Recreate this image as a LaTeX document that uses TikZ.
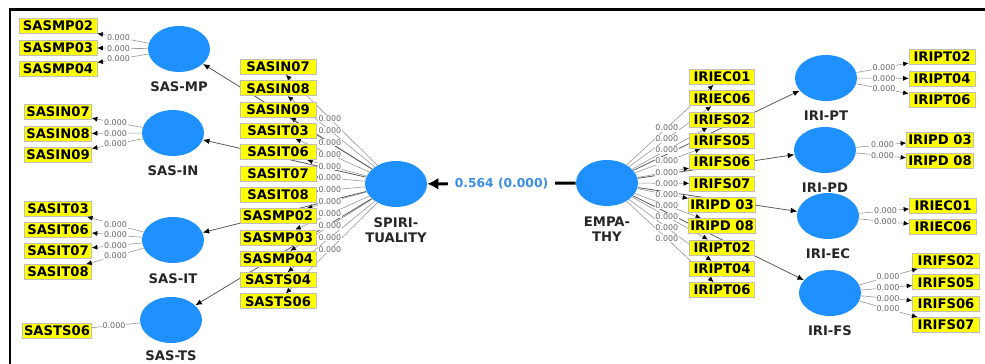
\documentclass[tikz,border=0pt]{standalone}
\usepackage{fontspec}
\setmainfont{DejaVu Sans}
\usetikzlibrary{arrows.meta, calc, positioning, backgrounds}
\usetikzlibrary{shapes.geometric}
\definecolor{lvblue}{HTML}{1E90FF}
\definecolor{coefblue}{HTML}{3A8EE8}
\definecolor{boxyellow}{HTML}{FFFF00}

\begin{document}
\begin{tikzpicture}[% styles used in image code
        x = 0.02cm, y = -0.02cm,
lv/.style = {ellipse, fill=lvblue, draw=none,
             minimum width=1.24cm, minimum height=0.92cm, inner sep=0pt},
ind/.style = {draw=black!25, fill=boxyellow, thin,
              font=\fontsize{7.5}{8}\selectfont\bfseries,
              minimum height=0.3cm, inner xsep=1pt, inner ysep=0pt},
lvname/.style = {font=\fontsize{7.5}{8.5}\selectfont\bfseries, text=black!85,
                 inner sep=0pt, align=center},
load/.style = {font=\fontsize{4.5}{5}\selectfont, text=black!60,
               fill=white, inner sep=0.4pt},
coef/.style = {font=\fontsize{7}{8}\selectfont\bfseries, text=coefblue,
               fill=white, inner xsep=4pt},
ml/.style = {draw=black!40, line width=0.35pt,
             -{Latex[length=1.1mm, width=1mm, color=black]}}, % outer loadings
sp/.style = {draw=black!65, line width=0.45pt,
             -{Latex[length=1.3mm, width=1.1mm, color=black]}} % paths
                        ]
	\useasboundingbox (0,0) rectangle (985,364);
	% frame of the screenshot
	\coordinate (fb) at (10,364);
	\coordinate (fc) at (10,10);
	\coordinate (fr) at (985,10);
	\draw[line width=0.06cm] (fb) -- (fc) -- (fr);

	% latent variables
	\node[lv] (spir) at (396,184) {};
	\node[lv] (emp)  at (607,183) {};
	\node[lv] (mp) at (179,49)  {};
	\node[lv] (in) at (173,133) {};
	\node[lv] (it) at (173,240) {};
	\node[lv] (ts) at (171,320) {};
	\node[lv] (pt) at (826,78)  {};
	\node[lv] (pd) at (825,150) {};
	\node[lv] (ec) at (828,216) {};
	\node[lv] (fs) at (830,293) {};

	\node[lvname, below=0.2cm of spir] {SPIRI-\\TUALITY};
	\node[lvname, below=0.2cm of emp]  {EMPA-\\THY};
	\node[lvname, below=0.18cm of mp] {SAS-MP};
	\node[lvname, below=0.18cm of in] {SAS-IN};
	\node[lvname, below=0.2cm of it]  {SAS-IT};
	\node[lvname, below=0.15cm of ts] {SAS-TS};
	\node[lvname, below=0.18cm of pt] {IRI-PT};
	\node[lvname, below=0.18cm of pd] {IRI-PD};
	\node[lvname, below=0.18cm of ec] {IRI-EC};
	\node[lvname, below=0.18cm of fs] {IRI-FS};

	% indicators of the second order constructs
	\foreach \t [count=\i] in {SASIN07,SASIN08,SASIN09,SASIT03,SASIT06,SASIT07,
	                           SASIT08,SASMP02,SASMP03,SASMP04,SASTS04,SASTS06}
	    \node[ind, minimum width=1.52cm] (s\i) at (278,{67+21.3*(\i-1)}) {\t};
	\foreach \t [count=\i] in {IRIEC01,IRIEC06,IRIFS02,IRIFS05,IRIFS06,IRIFS07,
	                           IRIPD 03,IRIPD 08,IRIPT02,IRIPT04,IRIPT06}
	    \node[ind, minimum width=1.3cm] (e\i) at (722,{77+21.3*(\i-1)}) {\t};

	% indicators of the first order constructs
	\foreach \t [count=\i] in {SASMP02,SASMP03,SASMP04}
	    \node[ind, minimum width=1.56cm] (mp\i) at (58,{26+21.5*(\i-1)}) {\t};
	\foreach \t [count=\i] in {SASIN07,SASIN08,SASIN09}
	    \node[ind, minimum width=1.34cm] (in\i) at (58,{112+21.5*(\i-1)}) {\t};
	\foreach \t [count=\i] in {SASIT03,SASIT06,SASIT07,SASIT08}
	    \node[ind, minimum width=1.34cm] (it\i) at (58,{209+21*(\i-1)}) {\t};
	\node[ind, minimum width=1.32cm] (ts1) at (57,331) {SASTS06};
	\foreach \t [count=\i] in {IRIPT02,IRIPT04,IRIPT06}
	    \node[ind, minimum width=1.32cm] (pt\i) at (942,{57+21.5*(\i-1)}) {\t};
	\foreach \t [count=\i] in {IRIPD 03,IRIPD 08}
	    \node[ind, minimum width=1.32cm] (pd\i) at (940,{140+21*(\i-1)}) {\t};
	\foreach \t [count=\i] in {IRIEC01,IRIEC06}
	    \node[ind, minimum width=1.34cm] (ec\i) at (943,{206+21*(\i-1)}) {\t};
	\foreach \t [count=\i] in {IRIFS02,IRIFS05,IRIFS06,IRIFS07}
	    \node[ind, minimum width=1.34cm] (fs\i) at (946,{261+21.3*(\i-1)}) {\t};

	% lines behind the boxes
	\begin{scope}[on background layer]
	\foreach \i in {1,...,12} \draw[ml] (spir) -- (s\i);
	\foreach \i in {1,...,11} \draw[ml] (emp) -- (e\i);
	\foreach \n in {mp,in,it,ts} \draw[sp] (spir) -- (\n);
	\foreach \n in {pt,pd,ec,fs} \draw[sp] (emp) -- (\n);
	\end{scope}

	% outer loadings
	\foreach \i in {1,...,12} \node[load] at ($(spir)!0.56!(s\i)$) {0.000};
	\foreach \i in {1,...,11} \node[load] at ($(emp)!0.52!(e\i)$) {0.000};
	\foreach \n/\k in {mp/3,in/3,it/4,pt/3,pd/2,ec/2,fs/4}
	  \foreach \i in {1,...,\k} {
	    \draw[ml] (\n) -- (\n\i);
	    \node[load] at ($(\n)!0.5!(\n\i)$) {0.000};
	  }
	\draw[ml, -] (ts) -- (ts1);
	\node[load] at ($(ts)!0.5!(ts1)$) {0.000};

	% path between the second order constructs
	\draw[line width=1.7pt, -{Latex[length=2.2mm, width=2.4mm]}]
	    (emp) -- node[coef] {0.564 (0.000)} (spir);
\end{tikzpicture}
\end{document}
